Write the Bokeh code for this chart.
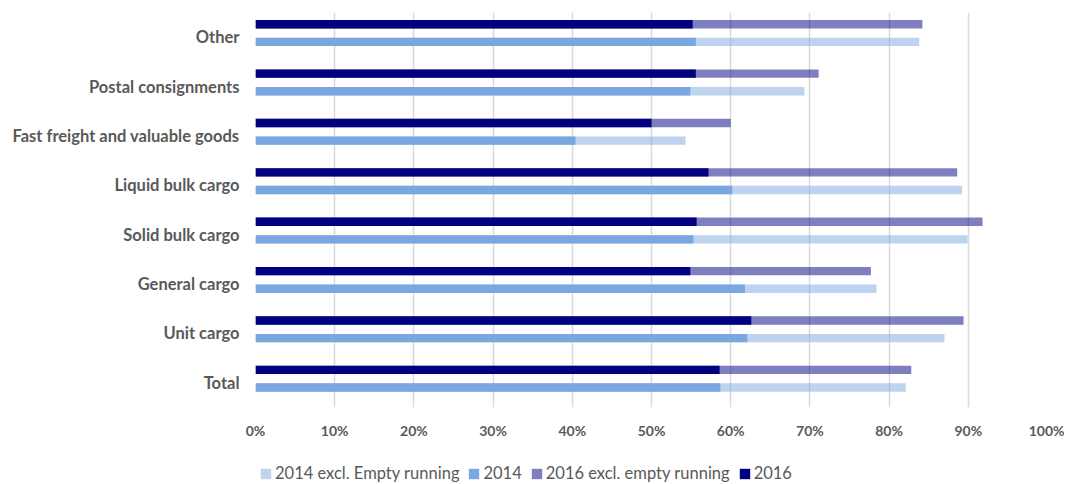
from bokeh.plotting import figure
from bokeh.layouts import column
from bokeh.models import (FactorRange, Range1d, FixedTicker, PrintfTickFormatter,
                          Legend, LegendItem, ColumnDataSource)
from bokeh.transform import dodge
from bokeh.embed import file_html
from bokeh.resources import INLINE

categories = ["Total", "Unit cargo", "General cargo", "Solid bulk cargo",
              "Liquid bulk cargo", "Fast freight and valuable goods",
              "Postal consignments", "Other"]
v2014_excl = [82.1, 87.0, 78.4, 89.9, 89.2, 54.3, 69.3, 83.8]
v2014 = [58.7, 62.1, 61.8, 55.3, 60.2, 40.4, 54.9, 55.6]
v2016_excl = [82.8, 89.4, 77.7, 91.8, 88.6, 60.0, 71.1, 84.2]
v2016 = [58.6, 62.6, 54.9, 55.7, 57.2, 50.0, 55.6, 55.2]
x_ticks = [0, 10, 20, 30, 40, 50, 60, 70, 80, 90, 100]
series_labels = ["2014 excl. Empty running", "2014", "2016 excl. empty running", "2016"]

src = ColumnDataSource(dict(cat=categories, e14=v2014_excl, v14=v2014,
                            e16=v2016_excl, v16=v2016))

FONT = "Lato"
GREY = "#595959"
NAVY = "#000080"
BLUE = "#7BA7E0"

p = figure(width=1064, height=450, y_range=FactorRange(factors=categories, range_padding=0),
           x_range=Range1d(0, 100), output_backend="svg", toolbar_location=None,
           min_border_left=255, min_border_right=17, min_border_top=12, min_border_bottom=43)
p.outline_line_color = None

y16 = dodge("cat", 0.262, range=p.y_range)
y14 = dodge("cat", -0.095, range=p.y_range)
h = 0.168

p.hbar(y=y16, left=0, right="e16", height=h, source=src, fill_color=NAVY,
       fill_alpha=0.5, line_color=None)
p.hbar(y=y16, left=0, right="v16", height=h, source=src, fill_color=NAVY,
       line_color=None)
p.hbar(y=y14, left=0, right="e14", height=h, source=src, fill_color=BLUE,
       fill_alpha=0.5, line_color=None)
p.hbar(y=y14, left=0, right="v14", height=h, source=src, fill_color=BLUE,
       line_color=None)

p.xaxis.ticker = FixedTicker(ticks=x_ticks)
p.xaxis.formatter = PrintfTickFormatter(format="%d%%")
p.xaxis.axis_line_color = None
p.xaxis.major_tick_line_color = None
p.xaxis.minor_tick_line_color = None
p.xaxis.major_label_text_font = FONT
p.xaxis.major_label_text_font_style = "bold"
p.xaxis.major_label_text_font_size = "14px"
p.xaxis.major_label_text_color = GREY
p.xaxis.major_label_standoff = 8

p.yaxis.axis_line_color = None
p.yaxis.major_tick_line_color = None
p.yaxis.minor_tick_line_color = None
p.yaxis.major_label_text_font = FONT
p.yaxis.major_label_text_font_style = "bold"
p.yaxis.major_label_text_font_size = "16.5px"
p.yaxis.major_label_text_color = GREY
p.yaxis.major_label_standoff = 10

p.ygrid.grid_line_color = None
p.xgrid.grid_line_color = "#D9D9D9"
p.xgrid.grid_line_width = 1.5

# legend strip (swatches styled like the bars; swatch renderers sit outside the view)
pl = figure(width=1064, height=34, x_range=Range1d(0, 1), y_range=Range1d(0, 1),
            output_backend="svg", toolbar_location=None,
            x_axis_location=None, y_axis_location=None,
            min_border_left=255, min_border_right=17, min_border_top=0, min_border_bottom=0)
pl.outline_line_color = None
pl.grid.grid_line_color = None
swatch = ColumnDataSource(dict(y=[-5], r=[-4]))
l_e14 = pl.hbar(y="y", left=-5, right="r", height=0.1, source=swatch, fill_color=BLUE,
                fill_alpha=0.5, line_color=None)
l_v14 = pl.hbar(y="y", left=-5, right="r", height=0.1, source=swatch, fill_color=BLUE,
                line_color=None)
l_e16 = pl.hbar(y="y", left=-5, right="r", height=0.1, source=swatch, fill_color=NAVY,
                fill_alpha=0.5, line_color=None)
l_v16 = pl.hbar(y="y", left=-5, right="r", height=0.1, source=swatch, fill_color=NAVY,
                line_color=None)

legend = Legend(items=[LegendItem(label=lab, renderers=[r]) for lab, r in
                       zip(series_labels, [l_e14, l_v14, l_e16, l_v16])],
                orientation="horizontal", location=(4, 1))
legend.background_fill_alpha = 0
legend.border_line_color = None
legend.label_text_font = FONT
legend.label_text_font_size = "16.5px"
legend.label_text_color = GREY
legend.glyph_width = 13
legend.glyph_height = 13
legend.label_standoff = 3
legend.spacing = 8
legend.padding = 2
legend.margin = 0
pl.add_layout(legend, "center")

open("out.html", "w").write(file_html(column(p, pl, spacing=0), INLINE))
